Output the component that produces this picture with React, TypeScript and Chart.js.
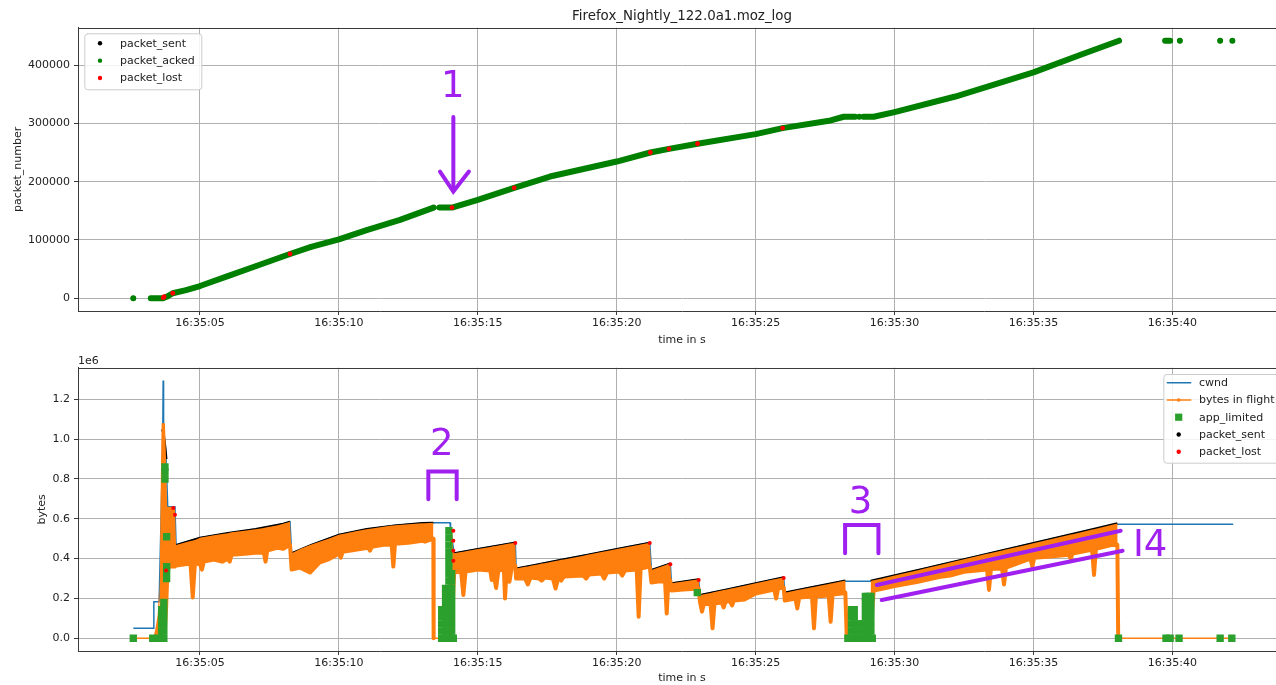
import React, { useEffect, useRef } from 'react';
import { Chart, registerables } from 'chart.js';

Chart.register(...registerables);
Chart.defaults.font.family = "'DejaVu Sans', sans-serif";

// ----------------------------- data -----------------------------
const TITLE = 'Firefox_Nightly_122.0a1.moz_log';
// time axis: seconds after 16:35:00
const timeTickSeconds = [5, 10, 15, 20, 25, 30, 35, 40];
const packetTicks = [0, 100000, 200000, 300000, 400000];
const bytesTicks = [0, 0.2, 0.4, 0.6, 0.8, 1.0, 1.2]; // x 1e6 bytes

// top chart: packet_acked (packet_sent lies underneath the same points)
const ackTimes = [2.60, 2.90, 3.23, 3.45, 3.67, 3.80, 4.02, 4.50, 5.00, 6.00, 7.00, 8.24, 9.00, 10.00, 11.00, 12.20, 13.41, 13.50, 13.62, 14.07, 15.00, 16.31, 17.60, 20.00, 21.21, 21.88, 22.91, 25.00, 25.97, 27.70, 28.17, 28.58, 28.65, 28.73, 28.80, 28.88, 29.25, 30.00, 32.19, 35.00, 36.70, 38.08, 39.00, 39.74, 39.92, 40.10, 40.27, 41.00, 41.72, 41.90, 42.16];
const ackNumbers = [0, null, 0, 0, 0, 2500, 8600, 14000, 21000, 38000, 55000, 76000, 88000, 101000, 117000, 134400, 155500, null, 155500, 155500, 168800, 189400, 208800, 234500, 250000, 256300, 265000, 281500, 291800, 305000, 311300, 311300, null, 311300, null, 311300, 311300, 319300, 346000, 387300, 417700, 441700, null, 441700, 441700, null, 441700, null, 441700, null, 441700];
const lostTopTimes = [3.68, 3.71, 4.02, 8.24, 14.07, 16.31, 21.21, 21.88, 22.91, 25.97];
const lostTopNumbers = [1000, 2700, 8600, 76000, 155500, 189400, 250000, 256300, 265000, 291800];

// bottom chart (values in units of 1e6 bytes)
const cwndTimes = [2.60, 3.32, 3.34, 3.53, 3.60, 3.66, 3.675, 3.69, 3.78, 3.84, 4.10, 4.14, 5.00, 6.00, 7.00, 8.00, 8.24, 8.30, 9.00, 10.00, 11.00, 12.00, 13.00, 13.40, 14.00, 14.02, 14.15, 15.00, 16.00, 16.35, 16.38, 17.00, 18.00, 19.00, 20.00, 21.19, 21.25, 21.93, 21.97, 22.95, 23.00, 24.00, 25.00, 26.01, 26.05, 27.00, 28.00, 28.23, 29.14, 31.00, 33.00, 35.00, 37.00, 38.04, 42.19];
const cwndMB = [0.05, 0.05, 0.184, 0.184, 0.60, 1.00, 1.294, 1.00, 0.90, 0.66, 0.66, 0.468, 0.505, 0.528, 0.548, 0.575, 0.585, 0.427, 0.468, 0.520, 0.548, 0.566, 0.578, 0.580, 0.580, 0.545, 0.427, 0.448, 0.472, 0.480, 0.350, 0.367, 0.394, 0.421, 0.448, 0.480, 0.343, 0.376, 0.276, 0.296, 0.217, 0.246, 0.276, 0.306, 0.229, 0.256, 0.283, 0.287, 0.287, 0.348, 0.413, 0.478, 0.543, 0.573, 0.573];

// bytes in flight: upper and lower edge of the dense orange band
const bifTimes = [
  2.60, 3.32, 3.40, 3.48, 3.55, 3.60, 3.62, 3.74, 3.78, 3.82, 3.86, 4.10,
  4.14, 4.40, 4.66, 4.74, 4.82, 5.00, 5.07, 5.14, 5.50, 5.80, 6.00, 6.07, 6.14, 6.60, 7.00, 7.30, 7.36, 7.42, 7.80, 8.00, 8.24,
  8.30, 8.60, 8.96, 9.30, 9.60, 10.00, 10.07, 10.14, 10.60, 11.05, 11.12, 11.19, 11.60, 11.90, 11.96, 12.02, 12.50, 13.00, 13.10, 13.40,
  13.41, 13.95, 14.00, 14.08, 14.12,
  14.15, 14.40, 14.48, 14.56, 15.00, 15.45, 15.50, 15.56, 15.66, 15.74, 15.94, 15.98, 16.04, 16.14, 16.22, 16.35,
  16.38, 16.70, 16.80, 16.90, 17.20, 17.30, 17.40, 17.70, 17.80, 17.90, 18.00, 18.10, 18.80, 18.90, 19.00, 19.45, 19.55, 19.65, 20.10, 20.20, 20.30, 20.72, 20.79, 20.86, 21.19,
  21.25, 21.50, 21.74, 21.80, 21.86, 21.93,
  21.97, 22.40, 22.95,
  23.00, 23.07, 23.14, 23.38, 23.45, 23.52, 23.78, 23.85, 23.92, 24.08, 24.15, 24.22, 24.60, 25.00, 25.67, 25.74, 25.81, 26.01,
  26.05, 26.43, 26.50, 26.57, 27.03, 27.10, 27.17, 27.63, 27.70, 27.77, 28.10, 28.23,
  28.28, 29.10, 29.14, 29.20,
  29.25, 29.60, 30.00, 30.40, 30.80, 31.20, 31.60, 32.00, 32.50, 33.33, 33.40, 33.47, 33.87, 33.94, 34.01, 34.50, 34.89, 34.96, 35.03, 35.50, 36.27, 36.34, 36.41, 36.90, 37.11, 37.18, 37.25, 37.80, 38.02,
  38.05, 42.19,
];
const bifUpperMB = [
  0, 0, 0.05, 0.12, 0.30, 0.90, 1.08, 1.08, 0.90, 0.66, 0.66, 0.66,
  0.468, 0.478, 0.488, 0.491, 0.494, 0.505, 0.507, 0.509, 0.518, 0.524, 0.528, 0.530, 0.532, 0.540, 0.548, 0.554, 0.556, 0.558, 0.568, 0.575, 0.585,
  0.427, 0.448, 0.468, 0.485, 0.498, 0.520, 0.522, 0.524, 0.538, 0.549, 0.550, 0.551, 0.560, 0.566, 0.567, 0.568, 0.573, 0.578, 0.578, 0.580,
  0, 0, 0.54, 0.54, 0.43,
  0.427, 0.433, 0.435, 0.437, 0.448, 0.459, 0.460, 0.462, 0.464, 0.466, 0.471, 0.472, 0.474, 0.476, 0.477, 0.480,
  0.350, 0.359, 0.361, 0.364, 0.372, 0.375, 0.377, 0.385, 0.388, 0.391, 0.394, 0.396, 0.415, 0.418, 0.421, 0.433, 0.436, 0.438, 0.451, 0.453, 0.456, 0.467, 0.469, 0.471, 0.480,
  0.343, 0.355, 0.367, 0.370, 0.373, 0.376,
  0.276, 0.285, 0.296,
  0.217, 0.219, 0.221, 0.228, 0.230, 0.232, 0.240, 0.242, 0.244, 0.249, 0.251, 0.253, 0.264, 0.276, 0.296, 0.298, 0.300, 0.306,
  0.229, 0.240, 0.242, 0.244, 0.256, 0.258, 0.260, 0.273, 0.275, 0.277, 0.286, 0.290,
  0, 0, 0.288, 0.290,
  0.291, 0.302, 0.315, 0.328, 0.341, 0.354, 0.367, 0.380, 0.397, 0.424, 0.426, 0.428, 0.441, 0.443, 0.446, 0.461, 0.474, 0.476, 0.478, 0.494, 0.519, 0.521, 0.523, 0.539, 0.546, 0.548, 0.550, 0.569, 0.577,
  0, 0,
];
const bifLowerMB = [
  0, 0, 0, 0, 0, 0.02, 0.02, 0.05, 0.15, 0.30, 0.36, 0.36,
  0.365, 0.370, 0.375, 0.205, 0.380, 0.370, 0.345, 0.385, 0.395, 0.385, 0.400, 0.385, 0.420, 0.425, 0.430, 0.430, 0.385, 0.440, 0.455, 0.450, 0.470,
  0.345, 0.355, 0.330, 0.380, 0.395, 0.425, 0.405, 0.435, 0.445, 0.455, 0.440, 0.460, 0.470, 0.470, 0.360, 0.475, 0.480, 0.490, 0.485, 0.500,
  0, 0, 0, 0.05, 0.25,
  0.330, 0.335, 0.217, 0.335, 0.345, 0.340, 0.293, 0.330, 0.253, 0.340, 0.345, 0.200, 0.350, 0.284, 0.355, 0.365,
  0.300, 0.300, 0.270, 0.305, 0.300, 0.290, 0.305, 0.300, 0.250, 0.305, 0.290, 0.310, 0.315, 0.300, 0.320, 0.325, 0.300, 0.330, 0.335, 0.315, 0.340, 0.345, 0.108, 0.350, 0.360,
  0.280, 0.285, 0.285, 0.125, 0.290, 0.290,
  0.240, 0.245, 0.250,
  0.180, 0.134, 0.175, 0.170, 0.050, 0.175, 0.180, 0.155, 0.185, 0.185, 0.165, 0.190, 0.195, 0.225, 0.245, 0.200, 0.250, 0.255,
  0.190, 0.200, 0.150, 0.205, 0.210, 0.050, 0.210, 0.215, 0.083, 0.220, 0.225, 0.230,
  0, 0, 0, 0.15,
  0.240, 0.250, 0.262, 0.272, 0.282, 0.295, 0.308, 0.315, 0.334, 0.345, 0.243, 0.348, 0.350, 0.270, 0.355, 0.380, 0.400, 0.360, 0.405, 0.410, 0.420, 0.400, 0.425, 0.440, 0.445, 0.318, 0.450, 0.468, 0.470,
  0, 0,
];

// packet_sent: upper envelope of the sawtooth
const sentTimes = [3.64, 3.70, 3.76, 3.79, 3.90, 4.14, 5.00, 6.00, 7.00, 8.00, 8.24, 8.27, 8.30, 9.00, 10.00, 11.00, 12.00, 13.00, 13.40, 13.70, 14.15, 15.00, 16.00, 16.35, 16.37, 16.38, 17.00, 18.00, 19.00, 20.00, 21.19, 21.22, 21.25, 21.93, 21.95, 21.97, 22.95, 22.98, 23.00, 24.00, 25.00, 26.01, 26.03, 26.05, 27.00, 28.00, 28.23, 28.70, 29.14, 31.00, 33.00, 35.00, 37.00, 38.02];
const sentMB = [1.05, 1.02, 0.95, 0.90, null, 0.468, 0.505, 0.528, 0.548, 0.575, 0.585, null, 0.427, 0.468, 0.520, 0.548, 0.566, 0.578, 0.580, null, 0.427, 0.448, 0.472, 0.480, null, 0.350, 0.367, 0.394, 0.421, 0.448, 0.480, null, 0.343, 0.376, null, 0.276, 0.296, null, 0.217, 0.246, 0.276, 0.306, null, 0.229, 0.256, 0.283, 0.290, null, 0.288, 0.348, 0.413, 0.478, 0.543, 0.577];

const appLimitedTimes = [
  2.60, 3.30, 3.52,
  3.62, 3.62, 3.62, 3.62, 3.62,
  3.70, 3.70, 3.70, 3.70, 3.70, 3.70,
  3.74, 3.74, 3.74, 3.80, 3.80, 3.80, 3.80,
  13.70, 13.70, 13.70, 13.70, 13.70,
  13.84, 13.84, 13.84, 13.84, 13.84, 13.84, 13.84, 13.84,
  13.96, 13.96, 13.96, 13.96, 13.96, 13.96, 13.96, 13.96, 13.96, 13.96, 13.96, 13.96, 13.96, 13.96, 13.96, 13.96,
  14.06, 14.06, 14.06, 14.06, 14.06, 14.06, 14.06, 14.06, 14.06, 14.06,
  14.12,
  22.90,
  28.32, 28.45, 28.58, 28.71, 28.84, 28.97, 29.10, 29.20,
  28.45, 28.45, 28.45, 28.45, 28.55, 28.55, 28.55, 28.55,
  28.70, 28.70, 28.80, 28.80,
  28.95, 28.95, 28.95, 28.95, 28.95, 28.95,
  29.05, 29.05, 29.05, 29.05, 29.05, 29.05,
  29.15, 29.15, 29.15, 29.15, 29.15, 29.15,
  38.06, 39.77, 39.92, 40.24, 41.72, 42.14,
];
const appLimitedMB = [
  0, 0, 0,
  0, 0.036, 0.072, 0.108, 0.144,
  0, 0.036, 0.072, 0.108, 0.144, 0.18,
  0.80, 0.836, 0.86, 0.51, 0.30, 0.336, 0.36,
  0, 0.036, 0.072, 0.108, 0.144,
  0, 0.036, 0.072, 0.108, 0.144, 0.18, 0.216, 0.25,
  0, 0.036, 0.072, 0.108, 0.144, 0.18, 0.216, 0.252, 0.288, 0.324, 0.36, 0.396, 0.432, 0.468, 0.504, 0.54,
  0, 0.036, 0.072, 0.108, 0.144, 0.18, 0.216, 0.252, 0.288, 0.324,
  0,
  0.229,
  0, 0, 0, 0, 0, 0, 0, 0,
  0.036, 0.072, 0.108, 0.144, 0.036, 0.072, 0.108, 0.144,
  0.036, 0.072, 0.036, 0.072,
  0.036, 0.072, 0.108, 0.144, 0.18, 0.21,
  0.036, 0.072, 0.108, 0.144, 0.18, 0.21,
  0.036, 0.072, 0.108, 0.144, 0.18, 0.21,
  0, 0, 0, 0, 0, 0,
];
const lostTimes = [3.78, 4.04, 4.10, 14.12, 14.12, 14.12, 14.12, 16.35, 21.19, 21.93, 22.95, 26.01];
const lostMB = [0.34, 0.654, 0.62, 0.54, 0.49, 0.44, 0.39, 0.478, 0.478, 0.372, 0.293, 0.303];

// ----------------------------- styling -----------------------------
const X_MIN = 0.61;
const X_MAX = 44.09;
const TEXT = '#222222';
const GRID = '#b0b0b0';
const FRAME = '#3a3a3a';
const PURPLE = '#a020f0';
const C_BLUE = '#1f77b4';
const C_ORANGE = '#ff7f0e';
const C_GREEN = '#2ca02c';
const C_DKGREEN = '#008000';
const C_RED = '#ff0000';

// hand-drawn purple annotations (data coordinates)
const topMarks = {
  texts: [{ t: 14.10, v: 367900, text: '1' }],
  paths: [
    [[14.12, 311000], [14.12, 184500]],
    [[13.64, 217300], [14.12, 183000], [14.68, 217300]],
  ],
};
const bottomMarks = {
  texts: [
    { t: 13.70, v: 0.987, text: '2' },
    { t: 28.78, v: 0.696, text: '3' },
    { t: 39.20, v: 0.479, text: 'I4' },
  ],
  paths: [
    [[13.22, 0.698], [13.22, 0.837], [14.24, 0.837], [14.24, 0.698]],
    [[28.22, 0.427], [28.22, 0.569], [29.42, 0.569], [29.42, 0.427]],
    [[29.36, 0.268], [38.14, 0.540]],
    [[29.54, 0.192], [38.21, 0.440]],
  ],
};

const pts = (ts: number[], vs: (number | null)[]) => ts.map((t, i) => ({ x: t, y: vs[i] }));

type LegendItem = { label: string; kind: 'dot' | 'line' | 'lineDot' | 'square'; color: string };

function drawLegend(ctx: CanvasRenderingContext2D, L: any) {
  ctx.save();
  ctx.beginPath();
  (ctx as any).roundRect(L.x + 0.5, L.y + 0.5, L.w, L.h, 3);
  ctx.fillStyle = 'rgba(255,255,255,0.85)';
  ctx.fill();
  ctx.strokeStyle = '#cccccc';
  ctx.lineWidth = 1;
  ctx.stroke();
  ctx.font = "11px 'DejaVu Sans'";
  ctx.textBaseline = 'middle';
  ctx.textAlign = 'left';
  L.items.forEach((it: LegendItem, i: number) => {
    const cy = L.y + L.row0 + i * L.rowH;
    const mx = L.x + L.markerDx;
    ctx.fillStyle = it.color;
    ctx.strokeStyle = it.color;
    if (it.kind === 'line' || it.kind === 'lineDot') {
      ctx.lineWidth = 1.5;
      ctx.beginPath();
      ctx.moveTo(L.x + L.line0, cy);
      ctx.lineTo(L.x + L.line1, cy);
      ctx.stroke();
    }
    if (it.kind === 'dot' || it.kind === 'lineDot') {
      ctx.beginPath();
      ctx.arc(mx, cy, it.kind === 'dot' ? 2.2 : 1.8, 0, Math.PI * 2);
      ctx.fill();
    }
    if (it.kind === 'square') {
      ctx.fillRect(mx - 3.6, cy - 3.6, 7.2, 7.2);
    }
    ctx.fillStyle = TEXT;
    ctx.fillText(it.label, L.x + L.textDx, cy + 0.5);
  });
  ctx.restore();
}

function makeDecor(cfg: any) {
  return {
    id: 'decor',
    afterDraw(chart: any) {
      const { ctx, chartArea: a } = chart;
      const xs = chart.scales.x;
      const ys = chart.scales.y;
      ctx.save();
      // top and right spines
      ctx.strokeStyle = FRAME;
      ctx.lineWidth = 1;
      ctx.beginPath();
      ctx.moveTo(a.left, Math.round(a.top) + 0.5);
      ctx.lineTo(a.right, Math.round(a.top) + 0.5);
      ctx.moveTo(Math.round(a.right) - 0.5, a.top);
      ctx.lineTo(Math.round(a.right) - 0.5, a.bottom);
      ctx.stroke();
      ctx.fillStyle = TEXT;
      if (cfg.title) {
        ctx.font = "13.4px 'DejaVu Sans'";
        ctx.textAlign = 'center';
        ctx.textBaseline = 'middle';
        ctx.fillText(cfg.title, (a.left + a.right) / 2, a.top - 11.5);
      }
      if (cfg.offsetText) {
        ctx.font = "11px 'DejaVu Sans'";
        ctx.textAlign = 'left';
        ctx.textBaseline = 'middle';
        ctx.fillText(cfg.offsetText, a.left, a.top - 6.8);
      }
      // purple marks
      ctx.strokeStyle = PURPLE;
      ctx.fillStyle = PURPLE;
      ctx.lineWidth = 4;
      ctx.lineCap = 'round';
      ctx.lineJoin = 'miter';
      for (const p of cfg.marks.paths) {
        ctx.beginPath();
        p.forEach(([t, v]: number[], i: number) => {
          const X = xs.getPixelForValue(t);
          const Y = ys.getPixelForValue(v);
          if (i === 0) ctx.moveTo(X, Y);
          else ctx.lineTo(X, Y);
        });
        ctx.stroke();
      }
      const fs = 37;
      ctx.font = `${fs}px 'DejaVu Sans'`;
      ctx.textAlign = 'center';
      ctx.textBaseline = 'alphabetic';
      for (const t of cfg.marks.texts) {
        const X = xs.getPixelForValue(t.t);
        const Y = ys.getPixelForValue(t.v);
        ctx.fillText(t.text, X, Y + fs * 0.3645);
      }
      // legend
      const L = { ...cfg.legend };
      L.x = L.anchor === 'left' ? a.left + L.dx : a.right - L.dx;
      L.y = a.top + L.dy;
      drawLegend(ctx, L);
      ctx.restore();
    },
  };
}

function xAxis(height: number) {
  return {
    type: 'linear',
    min: X_MIN,
    max: X_MAX,
    afterBuildTicks: (s: any) => {
      s.ticks = timeTickSeconds.map((v) => ({ value: v }));
    },
    afterFit: (s: any) => {
      s.height = height;
    },
    grid: { color: GRID, lineWidth: 1, drawTicks: true, tickLength: 4, tickColor: FRAME, tickWidth: 1 },
    border: { display: true, color: FRAME, width: 1 },
    ticks: {
      callback: (v: any) => '16:35:' + String(Math.round(Number(v))).padStart(2, '0'),
      color: TEXT,
      font: { size: 11 },
      padding: 2,
      maxRotation: 0,
      autoSkip: false,
    },
    title: { display: true, text: 'time in s', color: TEXT, font: { size: 11 }, padding: { top: 0, bottom: 0 } },
  };
}

function yAxis(min: number, max: number, ticks: number[], fmt: (v: number) => string, title: string, titlePad: number) {
  return {
    type: 'linear',
    min,
    max,
    afterBuildTicks: (s: any) => {
      s.ticks = ticks.map((v) => ({ value: v }));
    },
    afterFit: (s: any) => {
      s.width = 78;
    },
    grid: { color: GRID, lineWidth: 1, drawTicks: true, tickLength: 4, tickColor: FRAME, tickWidth: 1 },
    border: { display: true, color: FRAME, width: 1 },
    ticks: { callback: (v: any) => fmt(Number(v)), color: TEXT, font: { size: 11 }, padding: 4, autoSkip: false },
    title: { display: true, text: title, color: TEXT, font: { size: 11 }, padding: { top: titlePad, bottom: 0 } },
  };
}

function topConfig(): any {
  return {
    type: 'line',
    data: {
      datasets: [
        {
          label: 'packet_lost',
          data: pts(lostTopTimes, lostTopNumbers),
          showLine: false,
          pointRadius: 2.4,
          pointBackgroundColor: C_RED,
          pointBorderWidth: 0,
          order: 0,
        },
        {
          label: 'packet_acked',
          data: pts(ackTimes, ackNumbers),
          borderColor: C_DKGREEN,
          backgroundColor: C_DKGREEN,
          borderWidth: 6,
          borderCapStyle: 'round',
          borderJoinStyle: 'round',
          pointRadius: 2.5,
          pointBorderWidth: 0,
          pointBackgroundColor: C_DKGREEN,
          order: 1,
        },
        {
          label: 'packet_sent',
          data: pts(ackTimes, ackNumbers),
          borderColor: '#000000',
          borderWidth: 4,
          pointRadius: 0,
          order: 2,
        },
      ],
    },
    options: {
      responsive: false,
      animation: false,
      devicePixelRatio: 1,
      layout: { padding: { top: 27.7, right: 14, left: 0, bottom: 0 } },
      plugins: { legend: { display: false }, tooltip: { enabled: false }, title: { display: false } },
      events: [],
      scales: {
        x: xAxis(36),
        y: yAxis(-21800, 464000, packetTicks, (v) => String(Math.round(v)), 'packet_number', 11.4),
      },
    },
    plugins: [
      makeDecor({
        title: TITLE,
        marks: topMarks,
        legend: {
          anchor: 'left', dx: 6.3, dy: 5.6, w: 117, h: 56,
          row0: 10, rowH: 17.35, markerDx: 15.7, textDx: 35.7, line0: 4, line1: 27.4,
          items: [
            { label: 'packet_sent', kind: 'dot', color: '#000000' },
            { label: 'packet_acked', kind: 'dot', color: C_DKGREEN },
            { label: 'packet_lost', kind: 'dot', color: C_RED },
          ],
        },
      }),
    ],
  };
}

function bottomConfig(): any {
  return {
    type: 'line',
    data: {
      datasets: [
        {
          label: 'packet_lost',
          data: pts(lostTimes, lostMB),
          showLine: false,
          pointRadius: 2,
          pointBackgroundColor: C_RED,
          pointBorderWidth: 0,
          order: 0,
        },
        {
          label: 'app_limited',
          data: pts(appLimitedTimes, appLimitedMB),
          showLine: false,
          pointStyle: 'rect',
          pointRadius: 5.2,
          pointBackgroundColor: C_GREEN,
          pointBorderWidth: 0,
          order: 1,
        },
        {
          label: 'bytes in flight',
          data: pts(bifTimes, bifLowerMB),
          borderColor: C_ORANGE,
          backgroundColor: C_ORANGE,
          borderWidth: 4,
          borderCapStyle: 'round',
          borderJoinStyle: 'round',
          pointRadius: 0,
          fill: 3,
          segment: {
            borderWidth: (c: any) => (c.p0.parsed.y === 0 && c.p1.parsed.y === 0 ? 1.5 : undefined),
          },
          order: 2,
        },
        {
          label: 'bytes in flight (upper)',
          data: pts(bifTimes, bifUpperMB),
          borderColor: 'rgba(0,0,0,0)',
          borderWidth: 1,
          pointRadius: 0,
          fill: false,
          order: 3,
        },
        {
          label: 'packet_sent',
          data: pts(sentTimes, sentMB),
          borderColor: '#000000',
          borderWidth: 2.2,
          pointRadius: 0,
          order: 4,
        },
        {
          label: 'cwnd',
          data: pts(cwndTimes, cwndMB),
          borderColor: C_BLUE,
          borderWidth: 1.5,
          pointRadius: 0,
          order: 5,
        },
      ],
    },
    options: {
      responsive: false,
      animation: false,
      devicePixelRatio: 1,
      layout: { padding: { top: 27.7, right: 14, left: 0, bottom: 0 } },
      plugins: { legend: { display: false }, tooltip: { enabled: false }, title: { display: false } },
      events: [],
      scales: {
        x: xAxis(34),
        y: yAxis(-0.0638, 1.3588, bytesTicks, (v) => v.toFixed(1), 'bytes', 35.9),
      },
    },
    plugins: [
      makeDecor({
        offsetText: '1e6',
        marks: bottomMarks,
        legend: {
          anchor: 'right', dx: 122.7, dy: 6.3, w: 117.7, h: 88.7,
          row0: 8.7, rowH: 17.25, markerDx: 15.4, textDx: 35.7, line0: 4, line1: 27.4,
          items: [
            { label: 'cwnd', kind: 'line', color: C_BLUE },
            { label: 'bytes in flight', kind: 'lineDot', color: C_ORANGE },
            { label: 'app_limited', kind: 'square', color: C_GREEN },
            { label: 'packet_sent', kind: 'dot', color: '#000000' },
            { label: 'packet_lost', kind: 'dot', color: C_RED },
          ],
        },
      }),
    ],
  };
}

export default function App() {
  const topRef = useRef<HTMLCanvasElement>(null);
  const botRef = useRef<HTMLCanvasElement>(null);
  useEffect(() => {
    const top = new Chart(topRef.current as HTMLCanvasElement, topConfig());
    const bot = new Chart(botRef.current as HTMLCanvasElement, bottomConfig());
    return () => {
      top.destroy();
      bot.destroy();
    };
  }, []);
  return (
    <div style={{ position: 'fixed', left: 0, top: 0, width: 1276, height: 685, overflow: 'hidden', background: '#ffffff' }}>
      <canvas ref={topRef} width={1300} height={347} style={{ position: 'absolute', left: 0, top: 0, width: 1300, height: 347 }} />
      <canvas ref={botRef} width={1300} height={345} style={{ position: 'absolute', left: 0, top: 340, width: 1300, height: 345 }} />
    </div>
  );
}
